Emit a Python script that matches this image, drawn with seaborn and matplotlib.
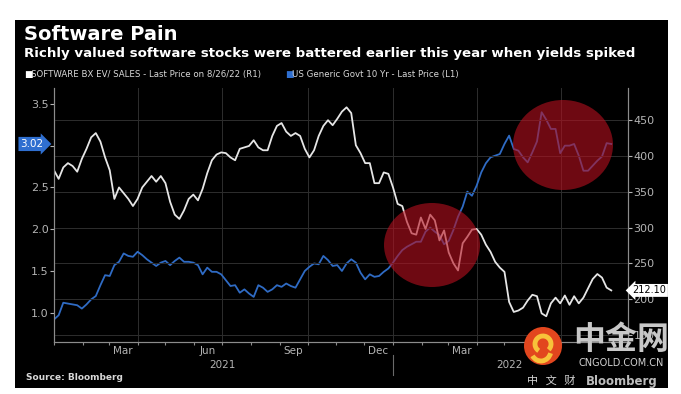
import pandas as pd
import seaborn as sns
import matplotlib
matplotlib.use("Agg")
import matplotlib.pyplot as plt
import matplotlib.dates as mdates
import matplotlib.transforms as mtransforms
from matplotlib.patches import Rectangle, Ellipse, Arc

# series, one value every 5 days from 1 Jan 2021 to 26 Aug 2022
software_ev_sales = [
    380, 368, 384, 390, 386, 378, 396, 410, 426, 432,
    420, 398, 380, 340, 356, 348, 340, 330, 340, 356,
    364, 372, 364, 372, 362, 336, 318, 312, 324, 340,
    346, 338, 354, 376, 394, 402, 405, 404, 398, 394,
    410, 412, 414, 422, 412, 408, 408, 428, 442, 446,
    434, 428, 432, 428, 410, 398, 408, 428, 442, 450,
    443, 452, 462, 468, 460, 415, 404, 390, 390, 362,
    362, 377, 375, 356, 333, 330, 308, 292, 290, 314,
    298, 318, 310, 282, 296, 265, 250, 240, 278, 287,
    297, 298, 290, 276, 266, 252, 244, 238, 196, 182,
    184, 188, 198, 206, 204, 180, 176, 194, 202, 194,
    205, 192, 204, 194, 202, 215, 228, 235, 230, 216,
    212.10,
]
us_10yr_yield = [
    0.92, 0.97, 1.12, 1.11, 1.10, 1.09, 1.05, 1.10, 1.16, 1.20,
    1.33, 1.45, 1.44, 1.57, 1.61, 1.71, 1.68, 1.67, 1.73, 1.69,
    1.64, 1.60, 1.56, 1.60, 1.62, 1.57, 1.62, 1.66, 1.61, 1.61,
    1.60, 1.57, 1.46, 1.54, 1.49, 1.49, 1.46, 1.39, 1.32, 1.33,
    1.24, 1.28, 1.23, 1.19, 1.33, 1.30, 1.25, 1.28, 1.33, 1.31,
    1.35, 1.32, 1.30, 1.40, 1.50, 1.55, 1.59, 1.58, 1.68, 1.63,
    1.56, 1.57, 1.50, 1.59, 1.64, 1.60, 1.48, 1.40, 1.46, 1.43,
    1.44, 1.49, 1.53, 1.60, 1.68, 1.75, 1.79, 1.82, 1.85, 1.85,
    1.97, 2.02, 1.97, 1.93, 1.82, 1.86, 1.99, 2.15, 2.27, 2.45,
    2.40, 2.52, 2.68, 2.79, 2.86, 2.88, 2.90, 3.02, 3.12, 2.96,
    2.94, 2.86, 2.80, 2.92, 3.05, 3.40, 3.31, 3.20, 3.20, 2.91,
    3.00, 3.00, 3.02, 2.88, 2.70, 2.70, 2.76, 2.82, 2.87, 3.03,
    3.02,
]
dates = pd.date_range("2021-01-01", periods=len(software_ev_sales), freq="5D")

left_ticks = [1.0, 1.5, 2.0, 2.5, 3.0, 3.5]
left_tick_labels = ["1.0", "1.5", "2.0", "2.5", "", "3.5"]   # 3.0 sits under the last-price box
right_ticks = [150, 200, 250, 300, 350, 400, 450]
month_label_dates = ["2021-03-16", "2021-06-16", "2021-09-16", "2021-12-16", "2022-03-16", "2022-06-16"]
month_labels = ["Mar", "Jun", "Sep", "Dec", "Mar", "Jun"]
quarter_dates = ["2021-04-01", "2021-07-01", "2021-10-01", "2022-01-01", "2022-04-01", "2022-07-01"]

df = pd.DataFrame({"date": dates, "software": software_ev_sales, "yield": us_10yr_yield})

W, H = 681, 394
fig = plt.figure(figsize=(W / 100, H / 100), dpi=100)
fig.patch.set_facecolor("white")
fig.add_artist(Rectangle((15 / W, 1 - 388 / H), 653 / W, 368 / H, transform=fig.transFigure,
                         facecolor="black", edgecolor="none", zorder=-10))

grey = "#b4b4b4"
ax = fig.add_axes([54 / W, 1 - 342 / H, 574 / W, 254 / H])
ax.set_facecolor("black")
ax2 = ax.twinx()

# grid
for d in quarter_dates:
    ax.axvline(pd.Timestamp(d), color="#2e2e2e", lw=0.7, zorder=0)
for v in right_ticks:
    ax2.axhline(v, color="#2e2e2e", lw=0.7, zorder=0)

sns.lineplot(data=df, x="date", y="yield", ax=ax, color="#2f6bc4", lw=1.3, legend=False)
sns.lineplot(data=df, x="date", y="software", ax=ax2, color="#e6e6e6", lw=1.3, legend=False)

ax.set_xlim(pd.Timestamp("2021-01-01"), pd.Timestamp("2022-09-11"))
ax.set_ylim(0.65, 3.69)
ax2.set_ylim(140, 495)
ax.set_xlabel("")
ax.set_ylabel("")
ax2.set_ylabel("")

ax.set_yticks(left_ticks)
ax.set_yticklabels(left_tick_labels)
ax2.set_yticks(right_ticks)
ax2.set_yticklabels([str(v) for v in right_ticks])
ax.set_xticks([pd.Timestamp(d) for d in month_label_dates])
ax.set_xticklabels(month_labels)
ax.xaxis.set_minor_locator(mdates.MonthLocator())

for a in (ax, ax2):
    for s in a.spines.values():
        s.set_color("#8c8c8c")
        s.set_linewidth(0.8)
    a.spines["top"].set_visible(False)
ax.tick_params(axis="y", colors=grey, labelsize=8, length=3, width=0.8, pad=1)
ax2.tick_params(axis="y", colors=grey, labelsize=8, length=3, width=0.8, pad=1)
ax.tick_params(axis="x", which="major", colors=grey, labelsize=7.5, length=0, pad=3)
ax.tick_params(axis="x", which="minor", colors="#8c8c8c", length=2.5, width=0.8)

# year labels and separator
trans = mtransforms.blended_transform_factory(ax.transData, ax.transAxes)
ax.text(pd.Timestamp("2021-07-01"), -0.09, "2021", transform=trans, ha="center", va="center",
        color=grey, fontsize=7.5)
ax.text(pd.Timestamp("2022-05-06"), -0.09, "2022", transform=trans, ha="center", va="center",
        color=grey, fontsize=7.5)
ax.plot([pd.Timestamp("2022-01-01")] * 2, [-0.05, -0.13], transform=trans, color="#6a6a6a",
        lw=0.8, clip_on=False)

# last price boxes
ax.text(-0.018, (us_10yr_yield[-1] - 0.65) / (3.69 - 0.65), f"{us_10yr_yield[-1]:.2f}",
        transform=ax.transAxes, ha="right", va="center", color="white", fontsize=7.5,
        bbox=dict(boxstyle="rarrow,pad=0.2", fc="#2f6fd0", ec="none"), zorder=10)
ax2.text(1.008, (software_ev_sales[-1] - 140) / (495 - 140), f"{software_ev_sales[-1]:.2f}",
         transform=ax2.transAxes, ha="left", va="center", color="black", fontsize=7,
         bbox=dict(boxstyle="larrow,pad=0.15", fc="white", ec="none"), zorder=10)

# red highlight circles
for cx, cy, w, h in [(432, 245, 96, 84), (563, 145, 100, 90)]:
    fig.add_artist(Ellipse((cx / W, 1 - cy / H), w / W, h / H, transform=fig.transFigure,
                           facecolor="#b8101f", edgecolor="none", alpha=0.6, zorder=5))

# titles
fig.text(24 / W, 1 - 34 / H, "Software Pain", color="white", fontsize=14, fontweight="bold",
         va="center", ha="left")
fig.text(24 / W, 1 - 53 / H,
         "Richly valued software stocks were battered earlier this year when yields spiked",
         color="white", fontsize=9.6, fontweight="bold", va="center", ha="left")
fig.text(24 / W, 1 - 74 / H, "\u25a0", color="white", fontsize=6.5, va="center")
fig.text(31 / W, 1 - 74 / H, "SOFTWARE BX EV/ SALES - Last Price on 8/26/22 (R1)", color="#d8d8d8",
         fontsize=6.2, va="center")
fig.text(285 / W, 1 - 74 / H, "\u25a0", color="#2f6fd0", fontsize=6.5, va="center")
fig.text(292 / W, 1 - 74 / H, "US Generic Govt 10 Yr - Last Price (L1)", color="#d8d8d8",
         fontsize=6.2, va="center")
fig.text(26 / W, 1 - 378 / H, "Source: Bloomberg", color="#d8d8d8", fontsize=6.5,
         fontweight="bold", va="center")

# watermark
cjk = ["Noto Sans CJK SC", "DejaVu Sans"]
fig.add_artist(Ellipse((543 / W, 1 - 346 / H), 38 / W, 38 / H, transform=fig.transFigure,
                       facecolor="#e2461e", edgecolor="none", zorder=6))
fig.add_artist(Arc((543 / W, 1 - 344 / H), 16 / W, 16 / H, theta1=-60, theta2=250,
                   transform=fig.transFigure, color="#f7c23a", lw=3.5, zorder=7))
fig.add_artist(Arc((541 / W, 1 - 350 / H), 20 / W, 22 / H, theta1=230, theta2=330,
                   transform=fig.transFigure, color="#f7c23a", lw=3.5, zorder=7))
fig.text(621 / W, 1 - 340 / H, "中金网", color="#c8c8c8", fontsize=23, fontweight="bold",
         ha="center", va="center", family=cjk, zorder=7)
fig.text(621 / W, 1 - 363 / H, "CNGOLD.COM.CN", color="#d0d0d0", fontsize=7,
         ha="center", va="center", zorder=7)
fig.text(527 / W, 1 - 381 / H, "中   文   财", color="#d0d0d0", fontsize=8,
         ha="left", va="center", family=cjk, zorder=7)
fig.text(586 / W, 1 - 381 / H, "Bloomberg", color="#bdbdbd", fontsize=8.5, fontweight="bold",
         ha="left", va="center", zorder=7)

fig.savefig("out.png", dpi=100, facecolor="white")
